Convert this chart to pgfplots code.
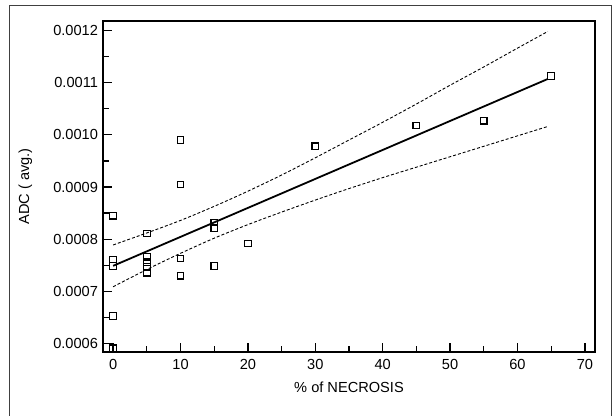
\documentclass[border=0pt]{standalone}
\usepackage{fontspec}
\setmainfont{Liberation Sans}
\usepackage{pgfplots}
\pgfplotsset{compat=1.18}
\begin{document}
\fontsize{14.6}{17}\selectfont
\begin{tikzpicture}[x=1pt,y=1pt]
\useasboundingbox (0,0) rectangle (615,415);
\draw[line width=1pt, black!75] (9.3,-5) -- (9.3,409) -- (611.7,409) -- (611.7,-5);
\begin{axis}[
  at={(103pt,63pt)}, anchor=south west,
  scale only axis, width=492pt, height=331pt,
  xmin=-1.5, xmax=71.5, ymin=0.000584, ymax=0.001218,
  axis line style={line width=1.8pt},
  tick align=inside, xtick pos=bottom, ytick pos=left,
  xtick={0,10,...,70}, minor xtick={5,15,...,65},
  ytick={0.0006,0.0007,0.0008,0.0009,0.0010,0.0011,0.0012},
  minor ytick={0.00065,0.00075,0.00085,0.00095,0.00105,0.00115},
  major tick length=9pt, minor tick length=6pt,
  tick style={line width=1.3pt, black},
  scaled y ticks=false,
  /pgf/number format/assume math mode=true,
  yticklabel style={/pgf/number format/fixed, /pgf/number format/precision=4, /pgf/number format/fixed zerofill},
  xticklabel style={yshift=-2pt},
  xlabel={\% of NECROSIS}, ylabel={ADC ( avg.)},
  xlabel style={at={(axis description cs:0.5,-0.106)}, anchor=center},
  ylabel style={at={(axis description cs:-0.158,0.5)}, anchor=center, rotate=0},
  clip marker paths=true,
]
\addplot[only marks, mark=square, mark size=3.3pt, mark options={line width=1.2pt, black}] coordinates {
(0,0.000845) (0,0.000761) (0,0.000749) (0,0.000653) (0,0.000591)
(5,0.000811) (5,0.000766) (5,0.000756) (5,0.000747) (5,0.000736)
(10,0.00099) (10,0.000905) (10,0.000763) (10,0.00073)
(15,0.000832) (15,0.000821) (15,0.000749)
(20,0.000792) (30,0.000978) (45,0.001018) (55,0.001027) (65,0.001113)
};
\addplot[no marks, line width=1.8pt, black] coordinates {(0,0.000749) (64.5,0.001107)};
\addplot[no marks, line width=0.9pt, black, dash pattern=on 3pt off 2pt, smooth] coordinates {
(0,0.000789) (5,0.000812) (10,0.000836) (15,0.000863) (20,0.000892) (25,0.000923) (30,0.000956) (35,0.000990) (40,0.001024) (45,0.001059) (50,0.001095) (55,0.001130) (60,0.001166) (64.5,0.001198)
};
\addplot[no marks, line width=0.9pt, black, dash pattern=on 3pt off 2pt, smooth] coordinates {
(0,0.000709) (5,0.000742) (10,0.000773) (15,0.000802) (20,0.000828) (25,0.000852) (30,0.000875) (35,0.000897) (40,0.000918) (45,0.000938) (50,0.000958) (55,0.000978) (60,0.000998) (64.5,0.001016)
};
\end{axis}
\end{tikzpicture}
\end{document}
